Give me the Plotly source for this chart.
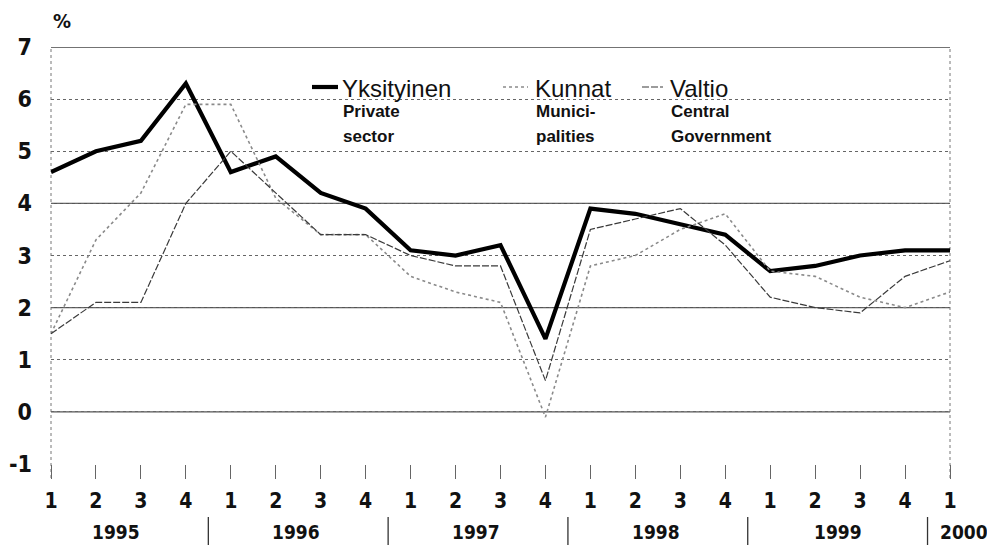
import plotly.graph_objects as go

# ---- data ----
quarter_labels = ["1", "2", "3", "4", "1", "2", "3", "4", "1", "2", "3", "4",
                  "1", "2", "3", "4", "1", "2", "3", "4", "1"]
years = ["1995", "1996", "1997", "1998", "1999", "2000"]
year_centers = [1.45, 5.45, 9.45, 13.45, 17.5, 20.32]
year_separators = [3.5, 7.5, 11.5, 15.5, 19.5]

private = [4.6, 5.0, 5.2, 6.3, 4.6, 4.9, 4.2, 3.9, 3.1, 3.0, 3.2, 1.4,
           3.9, 3.8, 3.6, 3.4, 2.7, 2.8, 3.0, 3.1, 3.1]
kunnat = [1.5, 3.3, 4.2, 5.9, 5.9, 4.1, 3.4, 3.4, 2.6, 2.3, 2.1, -0.1,
          2.8, 3.0, 3.5, 3.8, 2.7, 2.6, 2.2, 2.0, 2.3]
valtio = [1.5, 2.1, 2.1, 4.0, 5.0, 4.2, 3.4, 3.4, 3.0, 2.8, 2.8, 0.6,
          3.5, 3.7, 3.9, 3.2, 2.2, 2.0, 1.9, 2.6, 2.9]

series_names = ["Yksityinen", "Kunnat", "Valtio"]
series_sub = [["Private", "sector"], ["Munici-", "palities"], ["Central", "Government"]]

x = list(range(len(quarter_labels)))
X_MAX = x[-1]

TICKFONT = "Liberation Sans Narrow, DejaVu Sans Condensed, Arial Narrow, Liberation Sans, Arial"
TEXTFONT = "Liberation Sans, Arial, sans-serif"

OFF = 8  # default page body margin
W, H = 995 - OFF, 545 - OFF
# plot area in screenshot pixels: x 51..950, y 47..464
SL, SR, ST, SB = 51, 950, 47, 464
L, T = SL - OFF, ST - OFF
R, B = W - (SR - OFF), H - (SB - OFF)
PW, PH = W - L - R, H - T - B


def px(xp):  # screenshot pixel x -> paper
    return (xp - SL) / PW


def py(yp):  # screenshot pixel y -> paper
    return (SB - yp) / PH


fig = go.Figure()

styles = [
    dict(color="#000000", width=4.2),
    dict(color="#8a8a8a", width=1.6, dash="dot"),
    dict(color="#3a3a3a", width=1.2, dash="7px,2px"),
]
for name, vals, st in zip(series_names, [private, kunnat, valtio], styles):
    fig.add_trace(go.Scatter(x=x, y=vals, mode="lines", name=name,
                             line=st, cliponaxis=False, showlegend=False))

shapes = []
# solid reference lines
for yv in [0, 2, 4]:
    shapes.append(dict(type="line", xref="paper", yref="y", x0=0, x1=1, y0=yv, y1=yv,
                       line=dict(color="#555555", width=1.2), layer="below"))
shapes.append(dict(type="line", xref="paper", yref="y", x0=0, x1=1, y0=7, y1=7,
                   line=dict(color="#444444", width=1.3), layer="below"))
# borders
for xv in [0, 1]:
    shapes.append(dict(type="line", xref="paper", yref="paper", x0=xv, x1=xv,
                       y0=py(478), y1=1, line=dict(color="#777777", width=1, dash="dot"),
                       layer="below"))
# year separators
for s in year_separators:
    shapes.append(dict(type="line", xref="x", yref="paper", x0=s, x1=s,
                       y0=py(517), y1=py(546), line=dict(color="#333333", width=1.3)))

# legend swatches
legend_sw = [(312, 338), (503, 528), (642, 663)]
for (a, b), st in zip(legend_sw, styles):
    shapes.append(dict(type="line", xref="paper", yref="paper", x0=px(a), x1=px(b),
                       y0=py(87), y1=py(87), line=st))

annotations = []
for yr, c in zip(years, year_centers):
    annotations.append(dict(x=c / X_MAX, y=py(532), xref="paper", yref="paper",
                            text="<b>%s</b>" % yr,
                            showarrow=False, xanchor="center", yanchor="middle",
                            font=dict(family=TICKFONT, size=19, color="#111111")))

name_left = [340, 533, 668]
for nm, sub, lft in zip(series_names, series_sub, name_left):
    annotations.append(dict(x=px(lft), y=py(88), xref="paper", yref="paper", text=nm,
                            showarrow=False, xanchor="left", yanchor="middle",
                            font=dict(family=TEXTFONT, size=24, color="#111111")))
    annotations.append(dict(x=px(lft + 1), y=py(111), xref="paper", yref="paper",
                            text="<b>%s</b>" % sub[0], showarrow=False,
                            xanchor="left", yanchor="middle",
                            font=dict(family=TEXTFONT, size=17, color="#111111")))
    annotations.append(dict(x=px(lft + 1), y=py(136), xref="paper", yref="paper",
                            text="<b>%s</b>" % sub[1], showarrow=False,
                            xanchor="left", yanchor="middle",
                            font=dict(family=TEXTFONT, size=17, color="#111111")))

annotations.append(dict(x=px(51), y=py(21), xref="paper", yref="paper", text="<b>%</b>",
                        showarrow=False, xanchor="left", yanchor="middle",
                        font=dict(family=TICKFONT, size=20, color="#111111")))

fig.update_layout(
    width=W, height=H,
    margin=dict(l=L, r=R, t=T, b=B, pad=0, autoexpand=False),
    paper_bgcolor="white", plot_bgcolor="white",
    shapes=shapes, annotations=annotations,
    xaxis=dict(range=[0, X_MAX], tickmode="array", tickvals=x, automargin=False,
               ticktext=["<b>%s</b>" % q for q in quarter_labels],
               showgrid=False, zeroline=False, showline=False,
               ticks="outside", ticklen=14, tickwidth=1, tickcolor="#666666",
               tickfont=dict(family=TICKFONT, size=21, color="#111111"),
               ticklabelstandoff=4),
    yaxis=dict(range=[-1, 7], dtick=1, tick0=0, showgrid=True, gridcolor="#666666",
               griddash="dot", gridwidth=1, zeroline=False, showline=False, automargin=False,
               ticks="", tickfont=dict(family=TICKFONT, size=23, color="#111111"),
               tickvals=list(range(-1, 8)),
               ticktext=["<b>%d</b>" % v for v in range(-1, 8)],
               ticklabelstandoff=18),
)

fig.write_html("out.html")
